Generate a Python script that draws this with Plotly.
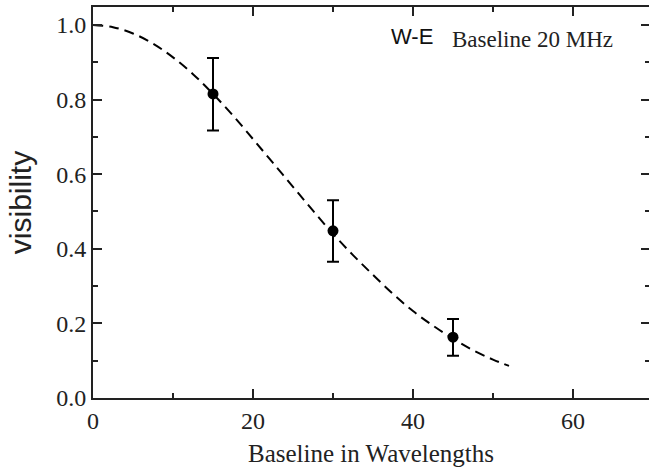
import plotly.graph_objects as go

# measured points (visibility vs baseline in wavelengths)
baseline = [15, 30, 45]
visibility = [0.815, 0.448, 0.163]
err_plus = [0.096, 0.082, 0.049]
err_minus = [0.098, 0.083, 0.050]

# dashed model curve
curve_x = [0, 2.5, 5, 7.5, 10, 12.5, 15, 17.5, 20, 22.5, 25, 27.5, 30, 32.5, 35, 37.5, 40, 42.5, 45, 47.5, 50, 52]
curve_y = [1.0, 0.994, 0.977, 0.950, 0.913, 0.868, 0.815, 0.757, 0.694, 0.630, 0.566, 0.502, 0.440, 0.383, 0.330, 0.279, 0.233, 0.194, 0.159, 0.128, 0.103, 0.086]

xticks = [0, 20, 40, 60]
yticks = [0.0, 0.2, 0.4, 0.6, 0.8, 1.0]

SERIF = "Liberation Serif"
SANS = "Liberation Sans"

fig = go.Figure()
fig.add_trace(go.Scatter(
    x=curve_x, y=curve_y, mode="lines",
    line=dict(color="black", width=2, dash="10px,6px", shape="spline"),
    showlegend=False, hoverinfo="skip"))
fig.add_trace(go.Scatter(
    x=baseline, y=visibility, mode="markers",
    marker=dict(color="black", size=11),
    error_y=dict(type="data", array=err_plus, arrayminus=err_minus,
                 color="black", thickness=2, width=6),
    showlegend=False))
# invisible trace to carry the right-hand tick axis
fig.add_trace(go.Scatter(x=[0], y=[0], yaxis="y2", mode="markers",
                         marker=dict(opacity=0), showlegend=False, hoverinfo="skip"))

tickfont = dict(family=SERIF, size=24, color="#222")

fig.update_layout(
    width=649, height=469,
    margin=dict(l=93, r=0, t=7, b=71),
    paper_bgcolor="white", plot_bgcolor="white",
    xaxis=dict(range=[0, 69.5], tickvals=xticks, ticktext=[str(v) for v in xticks],
               automargin=False,
               showgrid=False, zeroline=False, showline=True, linecolor="#222", linewidth=2,
               mirror="ticks", ticks="inside", ticklen=9, tickwidth=2, tickcolor="#222",
               minor=dict(dtick=10, ticks="inside", ticklen=5, tickwidth=2, tickcolor="#222", showgrid=False),
               tickfont=tickfont,
               title=dict(text="Baseline in Wavelengths", font=dict(family=SERIF, size=25, color="#222"), standoff=12)),
    yaxis=dict(range=[0, 1.048], tickvals=yticks, ticktext=[f"{v:.1f}" for v in yticks],
               automargin=False,
               showgrid=False, zeroline=False, showline=True, linecolor="#222", linewidth=2,
               ticks="inside", ticklen=9, tickwidth=2, tickcolor="#222",
               minor=dict(dtick=0.1, ticks="inside", ticklen=5, tickwidth=2, tickcolor="#222", showgrid=False),
               tickfont=tickfont,
               title=dict(text="visibility", font=dict(family=SANS, size=30, color="#222"), standoff=16)),
    yaxis2=dict(range=[0, 1.048], overlaying="y", side="right", anchor="x",
                automargin=False,
                tickvals=yticks, showticklabels=False, showgrid=False, zeroline=False,
                showline=False, linewidth=0, linecolor="rgba(0,0,0,0)",
                ticks="inside", ticklen=8, tickwidth=2, tickcolor="#222",
                minor=dict(dtick=0.1, ticks="inside", ticklen=4, tickwidth=2, tickcolor="#222", showgrid=False)),
    annotations=[
        dict(x=37, y=0.97, xref="x", yref="y", text="W-E", showarrow=False,
             xanchor="left", yanchor="middle", font=dict(family=SANS, size=22, color="#111")),
        dict(x=44.6, y=0.96, xref="x", yref="y", text="Baseline 20 MHz", showarrow=False,
             xanchor="left", yanchor="middle", font=dict(family=SERIF, size=23, color="#222")),
    ],
)

fig.write_html("out.html", config={"displayModeBar": False},
               post_script="document.body.style.margin='0';document.body.style.overflow='hidden';")
